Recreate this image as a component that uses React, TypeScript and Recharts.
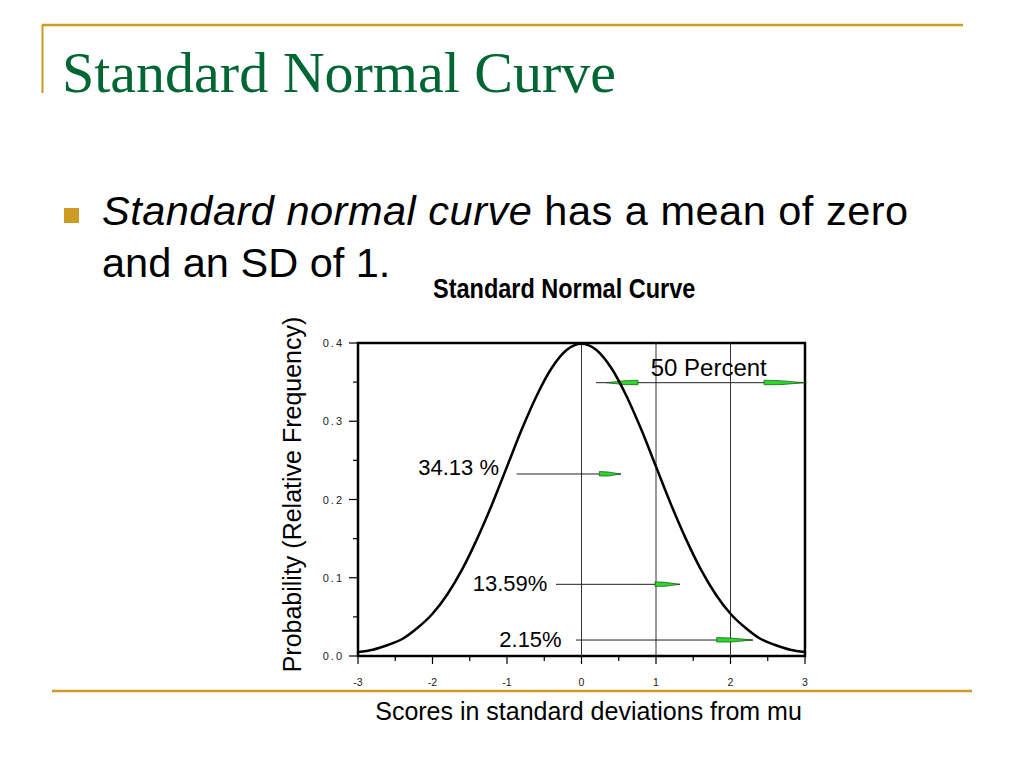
import React from "react";
import { ComposedChart, Line, XAxis, YAxis, ReferenceLine, ReferenceArea, ReferenceDot, Label } from "recharts";

// curve, every 0.2 SD
const scores = [-3, -2.8, -2.6, -2.4, -2.2, -2, -1.8, -1.6, -1.4, -1.2, -1, -0.8, -0.6, -0.4, -0.2, 0, 0.2, 0.4, 0.6, 0.8, 1, 1.2, 1.4, 1.6, 1.8, 2, 2.2, 2.4, 2.6, 2.8, 3];
const frequency = [0.005, 0.008, 0.014, 0.022, 0.036, 0.054, 0.079, 0.111, 0.15, 0.194, 0.242, 0.29, 0.333, 0.368, 0.391, 0.399, 0.391, 0.368, 0.333, 0.29, 0.242, 0.194, 0.15, 0.111, 0.079, 0.054, 0.036, 0.022, 0.014, 0.008, 0.005];

const xTicks = [-3, -2.5, -2, -1.5, -1, -0.5, 0, 0.5, 1, 1.5, 2, 2.5, 3];
const yTicks = [0, 0.05, 0.1, 0.15, 0.2, 0.25, 0.3, 0.35, 0.4];
const gridScores = [0, 1, 2];

// annotation lines
const arrowY = [0.3493, 0.2326, 0.0916, 0.0204];
const arrowFrom = [0.195, -0.87, -0.342, -0.074];
const arrowTo = [3.02, 0.53, 1.322, 2.3];

// green heads: tail -> tip
const headY = [0.3493, 0.3493, 0.2326, 0.0916, 0.0204];
const headTail = [0.758, 2.45, 0.24, 0.987, 1.815];
const headTip = [0.33, 3.0, 0.53, 1.322, 2.3];

// annotation texts
const noteText = ["50 Percent", "34.13 %", "13.59%", "2.15%"];
const noteX = [0.929, -1.107, -0.459, -0.266];
const noteY = [0.3582, 0.2313, 0.0835, 0.0119];
const noteAnchor = ["start", "end", "end", "end"];
const noteSize = [24, 22, 22, 22];

const data = scores.map((x, i) => ({ x, y: frequency[i] }));

const SANS = "'Liberation Sans', Arial, sans-serif";
const SERIF = "'Liberation Serif', 'Times New Roman', serif";
const GOLD = "#CC9D22";

const XTick = (props: any) => {
  const { x, y, payload } = props;
  const v = payload.value;
  const major = Number.isInteger(v);
  return (
    <g>
      <line x1={x} x2={x} y1={y} y2={y + (major ? 8 : 5)} stroke="#000" strokeWidth={1.2} />
      {major && (
        <text x={x} y={y + 30} textAnchor="middle" fontSize={10.5} fill="#222" fontFamily={SANS}>
          {String(v)}
        </text>
      )}
    </g>
  );
};

const YTick = (props: any) => {
  const { x, y, payload } = props;
  const v = payload.value;
  const major = Math.round(v * 100) % 10 === 0;
  return (
    <g>
      <line x1={x - (major ? 9 : 5)} x2={x} y1={y} y2={y} stroke="#000" strokeWidth={1.2} />
      {major && (
        <text x={x - 14} y={y + 4} textAnchor="end" fontSize={11} letterSpacing={2} fill="#222" fontFamily={SANS}>
          {v.toFixed(1)}
        </text>
      )}
    </g>
  );
};

const Wedge = (p: any) => {
  const { x1, y1, x2 } = p;
  const m = x1 + (x2 - x1) * 0.4;
  const d = `M${x1},${y1 - 2.5} L${m},${y1 - 2} L${x2},${y1} L${m},${y1 + 2} L${x1},${y1 + 2} Z`;
  return <path d={d} fill="#2bd92b" stroke="#145214" strokeWidth={0.7} />;
};

const xLabel = (props: any) => {
  const vb = props.viewBox;
  return (
    <text x={vb.x + vb.width / 2 + 7} y={vb.y + 64} textAnchor="middle" fontSize={25} fill="#000" fontFamily={SANS}>
      Scores in standard deviations from mu
    </text>
  );
};

const yLabel = (props: any) => {
  const vb = props.viewBox;
  const x = vb.x + vb.width - 57;
  const y = vb.y + vb.height / 2 - 5;
  return (
    <text x={x} y={y} transform={`rotate(-90, ${x}, ${y})`} textAnchor="middle" fontSize={25} fill="#000" fontFamily={SANS}>
      Probability (Relative Frequency)
    </text>
  );
};

export default function App() {
  return (
    <div style={{ position: "absolute", left: 0, top: 0, width: 1024, height: 768, background: "#fff", overflow: "hidden" }}>
      <svg width={1024} height={768} style={{ position: "absolute", left: 0, top: 0 }}>
        <line x1={42} x2={963} y1={25} y2={25} stroke={GOLD} strokeWidth={2.5} />
        <line x1={42.5} x2={42.5} y1={25} y2={93} stroke={GOLD} strokeWidth={2} />
        <line x1={52} x2={972} y1={691} y2={691} stroke={GOLD} strokeWidth={2.5} />
        <text x={62} y={92} fontSize={58} fill="#006633" fontFamily={SERIF}>
          Standard Normal Curve
        </text>
        <rect x={64} y={208} width={15} height={15} fill={GOLD} />
        <text x={102} y={225} fontSize={41.5} letterSpacing={0.5} fill="#000" fontFamily={SANS}>
          <tspan fontStyle="italic">Standard normal curve</tspan>
          <tspan> has a mean of zero</tspan>
        </text>
        <text x={102} y={277} fontSize={41.5} fill="#000" fontFamily={SANS}>
          and an SD of 1.
        </text>
        <text transform="translate(433,298) scale(0.87,1)" fontSize={27} fontWeight="bold" fill="#000" fontFamily={SANS}>
          Standard Normal Curve
        </text>
      </svg>
      <div style={{ position: "absolute", left: 0, top: 0 }}>
        <ComposedChart width={1024} height={768} data={data} margin={{ top: 343, right: 219, bottom: 42, left: 268 }}>
          <XAxis
            type="number"
            dataKey="x"
            domain={[-3, 3]}
            ticks={xTicks}
            interval={0}
            axisLine={false}
            tickLine={false}
            tickSize={0}
            tickMargin={0}
            tick={<XTick />}
            height={70}
          >
            <Label content={xLabel} />
          </XAxis>
          <YAxis
            type="number"
            domain={[0, 0.4]}
            ticks={yTicks}
            interval={0}
            axisLine={false}
            tickLine={false}
            tickSize={0}
            tickMargin={0}
            tick={<YTick />}
            width={90}
          >
            <Label content={yLabel} />
          </YAxis>
          {gridScores.map((g) => (
            <ReferenceLine key={`g${g}`} x={g} stroke="#333" strokeWidth={1} />
          ))}
          {arrowY.map((y, i) => (
            <ReferenceLine
              key={`a${i}`}
              segment={[{ x: arrowFrom[i], y }, { x: arrowTo[i], y }]}
              stroke="#222"
              strokeWidth={1}
              ifOverflow="visible"
            />
          ))}
          {headY.map((y, i) => (
            <ReferenceLine
              key={`h${i}`}
              segment={[{ x: headTail[i], y }, { x: headTip[i], y }]}
              ifOverflow="visible"
              shape={Wedge}
            />
          ))}
          <Line type="monotone" dataKey="y" stroke="#000" strokeWidth={2.5} dot={false} isAnimationActive={false} />
          <ReferenceArea x1={-3} x2={3} y1={0} y2={0.4} fill="none" fillOpacity={0} stroke="#000" strokeWidth={2.5} />
          {noteText.map((t, i) => (
            <ReferenceDot
              key={`n${i}`}
              x={noteX[i]}
              y={noteY[i]}
              r={0}
              shape={(p: any) => (
                <text x={p.cx} y={p.cy} textAnchor={noteAnchor[i] as any} fontSize={noteSize[i]} fill="#000" fontFamily={SANS}>
                  {t}
                </text>
              )}
            />
          ))}
        </ComposedChart>
      </div>
    </div>
  );
}
